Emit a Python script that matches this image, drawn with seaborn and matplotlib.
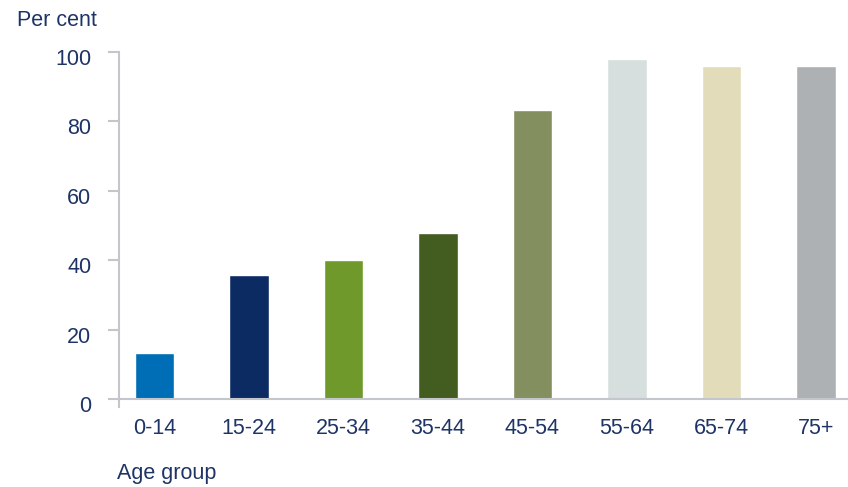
import matplotlib
matplotlib.use("Agg")
import matplotlib.pyplot as plt
import matplotlib.transforms as mtransforms
import seaborn as sns
import pandas as pd

# Share of people in each age group (per cent)
age_groups = ["0-14", "15-24", "25-34", "35-44", "45-54", "55-64", "65-74", "75+"]
shares = [13.3, 35.7, 40.0, 47.8, 83.3, 98.0, 96.0, 96.0]
bar_colors = ["#006EB6", "#0D2B63", "#6F9A2B", "#435C20",
              "#838F5F", "#D6DFDD", "#E3DCBA", "#ADB1B4"]
y_ticks = [0, 20, 40, 60, 80, 100]

sns.set_theme(style="white")
plt.rcParams["font.family"] = ["Liberation Sans", "DejaVu Sans"]

text_color = "#1E3466"
axis_color = "#C3C7CB"
font_size = 15.5

df = pd.DataFrame({"age": age_groups, "share": shares})

fig = plt.figure(figsize=(8.48, 4.87), dpi=100)
ax = fig.add_axes([119 / 848, 1 - 407 / 487, 1 - 119 / 848, (407 - 52) / 487])

sns.barplot(data=df, x="age", y="share", hue="age", palette=bar_colors,
            order=age_groups, hue_order=age_groups, legend=False,
            width=0.42, saturation=1, ax=ax)

ax.set_xlim(-0.376, 7.339)
ax.set_ylim(-2.3, 100)
ax.set_yticks(y_ticks)
ax.set_yticklabels([str(v) for v in y_ticks])

for side in ["top", "right"]:
    ax.spines[side].set_visible(False)
ax.spines["bottom"].set_position(("data", 0))
for side in ["left", "bottom"]:
    ax.spines[side].set_color(axis_color)
    ax.spines[side].set_linewidth(1.5)

ax.tick_params(axis="y", which="both", left=True, length=8, width=1.5,
               color=axis_color, labelsize=font_size, labelcolor=text_color, pad=12)
ax.tick_params(axis="x", which="both", bottom=False, labelsize=font_size,
               labelcolor=text_color, pad=8)
ax.set_xlabel("")
ax.set_ylabel("")

# y tick labels sit a little below their tick marks
shift = mtransforms.ScaledTranslation(0, -5 / 100, fig.dpi_scale_trans)
for lbl in ax.get_yticklabels():
    lbl.set_transform(lbl.get_transform() + shift)

fig.text(17 / 848, 1 - 21 / 487, "Per cent", fontsize=font_size, color=text_color,
         ha="left", va="center")
fig.text(117 / 848, 1 - 473 / 487, "Age group", fontsize=font_size, color=text_color,
         ha="left", va="center")

fig.savefig("out.png", dpi=100)
